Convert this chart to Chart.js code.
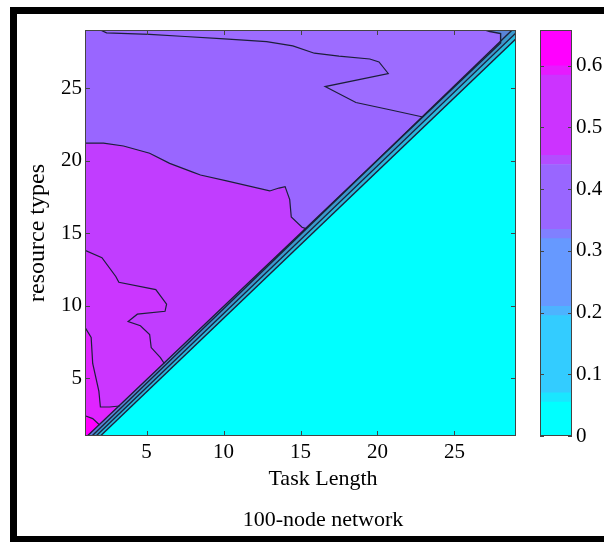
<!DOCTYPE html>
<html lang="en">
<head>
<meta charset="UTF-8">
<title>100-node network</title>
<script src="https://cdn.jsdelivr.net/npm/chart.js"></script>
<style>
  html, body { margin: 0; padding: 0; background: #fff; }
  .pagina { position: relative; width: 604px; height: 542px; overflow: hidden; }
  .moldura { position: absolute; left: 10px; top: 7px; width: 640px; height: 522px; border: 7px solid #000; }
  #grafico { position: absolute; left: 0; top: 0; }
  #barra { position: absolute; left: 520px; top: 0; }
  .legenda { position: absolute; left: 173px; width: 300px; text-align: center;
             font-family: 'Liberation Serif', serif; font-size: 22px; line-height: 22px; color: #000; }
</style>
</head>
<body>
<div class="pagina">
  <div class="moldura"></div>
  <canvas id="grafico" width="604" height="542"></canvas>
  <canvas id="barra" width="84" height="542"></canvas>
  <div class="legenda" style="top:467px">Task Length</div>
  <div class="legenda" style="top:508px">100-node network</div>
</div>
<script>
  // eixos
  const xLimites = [1, 29];
  const yLimites = [1, 29];
  const xTicks = [5, 10, 15, 20, 25];
  const yTicks = [5, 10, 15, 20, 25];

  // curvas de contorno: [Task Length, resource types]
  const linhaTopo = [[2.0, 29], [2.4, 28.8], [5.2, 28.7], [7.5, 28.55], [9.8, 28.4], [12.8, 28.2], [14.5, 27.9],
    [15.9, 27.4], [17.5, 27.2], [19.5, 27.0], [20.1, 26.8], [20.7, 26.0], [16.6, 25.1], [18.6, 24.0],
    [20.8, 23.5], [22.95, 23.0]];
  const linha045 = [[1, 21.2], [2.2, 21.2], [3.5, 21.0], [5.2, 20.5], [6.5, 19.8], [8.0, 19.2], [8.5, 19.0],
    [10.2, 18.6], [13.0, 17.9], [13.6, 18.1], [14.0, 18.2], [14.3, 17.3], [14.4, 16.1], [15.1, 15.4], [15.35, 15.3]];
  const linha05 = [[1, 13.8], [2.1, 13.3], [3.0, 12.0], [3.2, 11.6], [5.6, 11.1], [6.3, 10.1], [6.2, 9.6],
    [4.4, 9.4], [3.8, 8.9], [4.6, 8.6], [5.2, 8.0], [5.3, 7.1], [5.9, 6.4], [6.15, 6.0]];
  const linha055 = [[1, 8.5], [1.4, 7.8], [1.5, 6.0], [1.9, 4.1], [2.0, 3.0], [2.6, 3.0], [3.25, 3.07]];
  const linha06 = [[1, 2.4], [1.5, 2.2], [1.95, 1.76]];
  // faixa da diagonal
  const borda033 = [[1.15, 1], [28.0, 28.1], [28.0, 28.75], [27.3, 28.9], [27.0, 29]];
  const borda02 = [[1.45, 1], [28.75, 29]];
  const borda01 = [[1.72, 1], [29, 28.8]];
  const borda0 = [[2.0, 1], [29, 28.4]];

  // barra de cores
  const barraFaixas = [0, 0.055, 0.07, 0.195, 0.21, 0.32, 0.335, 0.44, 0.455, 0.585, 0.6, 0.658];
  const barraCores = ['#00ffff', '#1ae6ff', '#33ccff', '#4db3ff', '#6699ff', '#8080ff',
    '#9966ff', '#b34dff', '#cc33ff', '#e61aff', '#ff00ff'];
  const barraTicks = [0, 0.1, 0.2, 0.3, 0.4, 0.5, 0.6];

  const fonteTick = { family: "'Liberation Serif', serif", size: 21 };
  const fonteTitulo = { family: "'Liberation Serif', serif", size: 24 };

  function pts(arr) {
    return arr.map(p => ({ x: p[0], y: p[1] }));
  }

  function poligono(arr, cor, ordem) {
    return { data: pts(arr), showLine: true, fill: 'shape', backgroundColor: cor, borderWidth: 0,
      pointRadius: 0, tension: 0, order: ordem };
  }

  function contorno(arr, ordem, largura) {
    return { data: pts(arr), showLine: true, fill: false, borderColor: '#1c1f3a', borderWidth: largura || 1.2,
      pointRadius: 0, tension: 0, order: ordem };
  }

  // moldura e ticks para dentro (estilo matlab)
  const bordaTicks = {
    id: 'bordaTicks',
    afterDatasetsDraw(chart, args, opts) {
      const { ctx, chartArea: a } = chart;
      const len = opts.len || 5;
      ctx.save();
      ctx.strokeStyle = '#444';
      ctx.lineWidth = 1;
      ctx.beginPath();
      if (opts.x) {
        chart.scales.x.ticks.forEach(t => {
          const px = Math.round(chart.scales.x.getPixelForValue(t.value)) + 0.5;
          ctx.moveTo(px, a.bottom); ctx.lineTo(px, a.bottom - len);
          ctx.moveTo(px, a.top); ctx.lineTo(px, a.top + len);
        });
      }
      chart.scales.y.ticks.forEach(t => {
        const py = Math.round(chart.scales.y.getPixelForValue(t.value)) + 0.5;
        ctx.moveTo(a.left, py); ctx.lineTo(a.left + len, py);
        ctx.moveTo(a.right, py); ctx.lineTo(a.right - len, py);
      });
      ctx.stroke();
      ctx.strokeRect(Math.round(a.left) + 0.5, Math.round(a.top) + 0.5, Math.round(a.width) - 1, Math.round(a.height) - 1);
      ctx.restore();
    }
  };

  const cantoA = [xLimites[0], yLimites[1]];
  const cantoB = [xLimites[0], yLimites[0]];
  const cantoC = [xLimites[1], yLimites[1]];
  const fundo = [[xLimites[0], yLimites[0]], [xLimites[1], yLimites[0]], [xLimites[1], yLimites[1]], [xLimites[0], yLimites[1]]];

  const datasets = [
    poligono(fundo, '#00ffff', 100),
    poligono(borda0.concat([cantoC, cantoA, cantoB]), '#2ab8dc', 99),
    poligono(borda01.concat([cantoC, cantoA, cantoB]), '#3a98cc', 98),
    poligono(borda02.concat([cantoA, cantoB]), '#5a84d8', 97),
    poligono(borda033.concat([cantoA, cantoB]), '#9d6cff', 96),
    poligono(linhaTopo.concat([borda033[0], cantoB, cantoA]), '#9966ff', 95),
    poligono(linha045.concat([borda033[0], cantoB]), '#c13dff', 94),
    poligono(linha05.concat([borda033[0], cantoB]), '#cb36ff', 93),
    poligono(linha055.concat([borda033[0], cantoB]), '#e024ff', 92),
    poligono(linha06.concat([borda033[0], cantoB]), '#ff00ff', 91),
    contorno(borda0, 9, 1.4),
    contorno(borda01, 8, 1.4),
    contorno(borda02, 7, 1.4),
    contorno(borda033, 6, 1.4),
    contorno(linhaTopo, 5),
    contorno(linha045, 4),
    contorno(linha05, 3),
    contorno(linha055, 2),
    contorno(linha06, 1)
  ];

  new Chart(document.getElementById('grafico'), {
    type: 'scatter',
    data: { datasets: datasets },
    options: {
      responsive: false,
      animation: false,
      layout: { padding: { left: 20, right: 88, top: 30, bottom: 0 } },
      plugins: {
        legend: { display: false },
        tooltip: { enabled: false },
        bordaTicks: { x: true, len: 5 }
      },
      scales: {
        x: {
          type: 'linear', min: xLimites[0], max: xLimites[1],
          afterBuildTicks: s => { s.ticks = xTicks.map(v => ({ value: v })); },
          afterFit: s => { s.height = 106; },
          grid: { display: false, drawTicks: false },
          border: { display: false },
          ticks: { font: fonteTick, color: '#000', padding: 4, autoSkip: false, maxRotation: 0 }
        },
        y: {
          type: 'linear', min: yLimites[0], max: yLimites[1],
          afterBuildTicks: s => { s.ticks = yTicks.map(v => ({ value: v })); },
          afterFit: s => { s.width = 65; },
          grid: { display: false, drawTicks: false },
          border: { display: false },
          ticks: { font: fonteTick, color: '#000', padding: 3, autoSkip: false },
          title: { display: true, text: 'resource types', font: fonteTitulo, color: '#000', padding: { top: 3 } }
        }
      }
    },
    plugins: [bordaTicks]
  });

  new Chart(document.getElementById('barra'), {
    type: 'bar',
    data: {
      labels: [''],
      datasets: barraCores.map((cor, i) => ({
        data: [[barraFaixas[i], barraFaixas[i + 1]]],
        backgroundColor: cor, borderWidth: 0, barPercentage: 1, categoryPercentage: 1, grouped: false
      }))
    },
    options: {
      responsive: false,
      animation: false,
      layout: { padding: { left: 20, right: 0, top: 30, bottom: 106 } },
      plugins: {
        legend: { display: false },
        tooltip: { enabled: false },
        bordaTicks: { x: false, len: 4 }
      },
      scales: {
        x: { display: false },
        y: {
          position: 'right', min: barraFaixas[0], max: barraFaixas[barraFaixas.length - 1],
          afterBuildTicks: s => { s.ticks = barraTicks.map(v => ({ value: v })); },
          afterFit: s => { s.width = 32; },
          grid: { display: false, drawTicks: false },
          border: { display: false },
          ticks: { font: fonteTick, color: '#000', padding: 4, callback: v => String(v) }
        }
      }
    },
    plugins: [bordaTicks]
  });
</script>
</body>
</html>
